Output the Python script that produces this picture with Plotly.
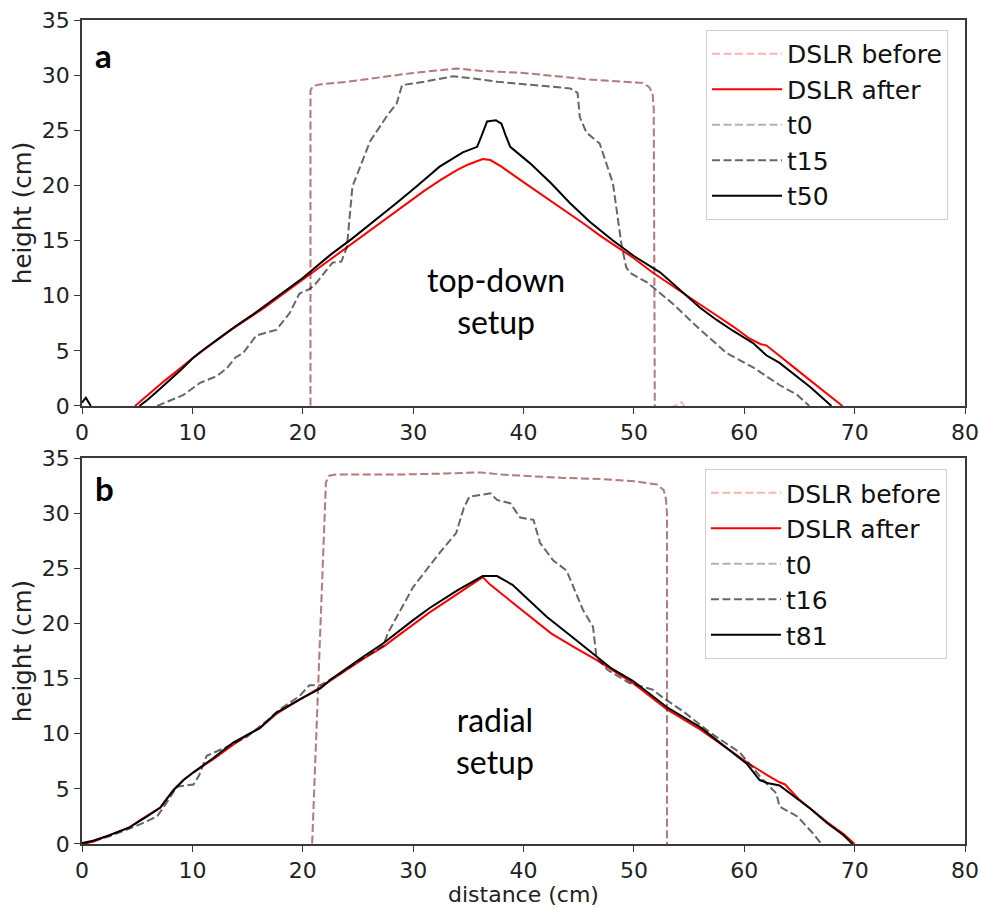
import plotly.graph_objects as go

# ---------------- Panel a (top-down setup) ----------------
a_before_x = [20.7, 20.7, 20.9, 21.5, 24, 27, 30, 33, 34, 36, 38, 40, 43, 46, 49, 50.8, 51.4, 51.7, 51.8, 51.9, 51.9, None, 53.3, 54.3, 54.8]
a_before_y = [-1, 28.6, 29.0, 29.15, 29.4, 29.8, 30.2, 30.5, 30.6, 30.4, 30.3, 30.2, 29.9, 29.6, 29.4, 29.3, 28.9, 28.3, 27.0, 0, -1, None, -0.2, 0.35, -0.3]

a_t0_x = [20.7, 20.7, 20.9, 21.5, 24, 27, 30, 33, 34, 36, 38, 40, 43, 46, 49, 50.8, 51.4, 51.7, 51.8, 51.9, 51.9]
a_t0_y = [-1, 28.6, 29.0, 29.15, 29.4, 29.8, 30.2, 30.5, 30.6, 30.4, 30.3, 30.2, 29.9, 29.6, 29.4, 29.3, 28.9, 28.3, 27.0, 0, -1]

a_after_x = [4.8, 5.5, 6.5, 7.5, 8.5, 9.5, 10.5, 12, 13.5, 15, 16.5, 18, 19.5, 20.7, 22, 23.5, 25, 26.5, 28, 29.5, 31, 32.5, 34, 35, 36.3, 37, 38, 39.7, 41, 42.5, 44, 45.5, 47, 48.5, 50, 51.7, 53, 54.5, 56, 57.5, 59, 60.5, 61.5, 62, 63.2, 64.5, 66, 67.5, 68.9]
a_after_y = [0, 0.6, 1.5, 2.3, 3.1, 3.9, 4.7, 5.8, 6.9, 7.9, 8.9, 10.0, 11.1, 12.0, 12.9, 14.0, 15.1, 16.2, 17.3, 18.4, 19.5, 20.5, 21.4, 21.9, 22.4, 22.3, 21.7, 20.5, 19.6, 18.6, 17.6, 16.5, 15.4, 14.4, 13.4, 12.1, 11.2, 10.2, 9.2, 8.2, 7.2, 6.1, 5.6, 5.5, 4.5, 3.5, 2.3, 1.1, 0]

a_t15_x = [6.8, 8.0, 9.2, 10.7, 12.2, 13.1, 13.9, 14.6, 15.8, 17.6, 18.8, 19.7, 20.6, 21.1, 22.7, 23.5, 24.0, 24.5, 26.1, 27.7, 28.5, 29.0, 31, 33.6, 35.5, 37.6, 40, 42, 44.2, 44.9, 45.1, 45.7, 46.9, 48.1, 48.9, 49.3, 49.6, 51.2, 53.5, 55.7, 58.4, 60.8, 63.2, 64.8, 65.9]
a_t15_y = [0, 0.5, 1.0, 2.1, 2.7, 3.4, 4.4, 4.8, 6.4, 6.9, 8.4, 10.2, 10.6, 11.0, 13.0, 13.1, 14.4, 19.9, 24.0, 26.4, 27.4, 29.1, 29.4, 29.9, 29.7, 29.4, 29.2, 29.0, 28.8, 28.4, 26.2, 24.8, 23.8, 20.2, 14.5, 12.6, 12.1, 11.2, 9.3, 7.2, 4.8, 3.5, 1.9, 1.0, 0]

a_t50_x = [0, 0.35, 0.8, None, 5.2, 6, 7, 8, 9, 10, 11, 12.5, 14, 15.5, 17, 18.5, 20, 20.7, 22.5, 24.5, 26.4, 28.5, 30.3, 32.4, 34.5, 35.8, 36.2, 36.7, 37.5, 38.0, 38.4, 38.8, 40.6, 42.5, 44.2, 46, 48.1, 50, 52.4, 54.5, 56, 57.5, 59, 60.8, 62, 63.2, 64.5, 66, 67.9]
a_t50_y = [0.3, 0.75, 0, None, 0, 0.6, 1.5, 2.4, 3.3, 4.3, 5.1, 6.2, 7.3, 8.3, 9.4, 10.5, 11.6, 12.2, 13.7, 15.2, 16.7, 18.4, 19.9, 21.7, 23.0, 23.5, 24.5, 25.8, 25.9, 25.6, 24.5, 23.5, 22.0, 20.2, 18.4, 16.7, 15.0, 13.6, 12.1, 10.2, 8.9, 7.8, 6.8, 5.7, 4.6, 3.9, 2.9, 1.7, 0]

# ---------------- Panel b (radial setup) ----------------
b_before_x = [20.85, 20.85, 22.1, 22.4, 23, 28.8, 33, 36.1, 38, 43.6, 47, 50, 52.1, 52.7, 52.9, 53.0, 53.0]
b_before_y = [-1, 0, 32.8, 33.4, 33.5, 33.5, 33.6, 33.7, 33.5, 33.2, 33.1, 32.9, 32.6, 32.1, 31.3, 30, -1]

b_t0_x = [20.85, 20.85, 22.1, 22.4, 23, 28.8, 33, 36.1, 38, 43.6, 47, 50, 52.1, 52.7, 52.9, 53.0, 53.0]
b_t0_y = [-1, 0, 32.8, 33.4, 33.5, 33.5, 33.6, 33.7, 33.5, 33.2, 33.1, 32.9, 32.6, 32.1, 31.3, 30, -1]

b_after_x = [0, 1, 2.5, 4.3, 5.3, 6, 7.1, 7.6, 8.3, 9.2, 10.1, 11, 11.9, 13.7, 15, 16.1, 17.6, 19.7, 21.6, 22.5, 25.5, 27.3, 28.8, 31.5, 33, 34.5, 36.3, 37, 38.5, 40.6, 42.5, 44.5, 46.6, 49.9, 52.4, 53, 56, 58, 60.4, 62, 63.2, 63.7, 64.4, 65, 67.5, 69, 70]
b_after_y = [0, 0.2, 0.8, 1.5, 2.2, 2.6, 3.3, 4.0, 4.9, 5.8, 6.5, 7.1, 7.7, 9.0, 9.9, 10.5, 11.8, 13.1, 14.2, 14.8, 16.8, 17.9, 19.0, 21.0, 22.0, 23.0, 24.2, 23.5, 22.3, 20.6, 19.1, 17.9, 16.7, 14.6, 12.6, 12.2, 10.4, 9.0, 7.3, 6.3, 5.6, 5.4, 4.6, 4.0, 2.0, 0.9, 0]

b_t16_x = [0, 2.5, 4.3, 5.3, 6.8, 7.5, 8.6, 10.1, 10.6, 11.3, 13.1, 14.9, 16.8, 17.9, 19.7, 20.6, 21.6, 23, 24.5, 26, 27.3, 27.7, 30, 32.4, 33.9, 34.6, 35.1, 37, 37.6, 38.8, 39.7, 40.9, 41.5, 42.7, 43.9, 45.4, 46.3, 46.6, 47.6, 49.6, 51.7, 52.6, 54.5, 56.9, 59.6, 61.7, 62.9, 63.2, 64.8, 66.2, 67]
b_t16_y = [0, 0.7, 1.4, 1.8, 2.5, 3.5, 5.2, 5.4, 6.2, 8.0, 8.8, 9.7, 11.2, 12.2, 13.4, 14.4, 14.4, 15.2, 16.2, 17.2, 18.0, 19.1, 23.3, 26.4, 28.2, 30.5, 31.5, 31.8, 31.2, 30.9, 29.6, 29.4, 27.3, 25.7, 24.8, 21.2, 19.7, 17.0, 15.8, 14.6, 14.0, 13.3, 12.0, 10.1, 8.3, 5.8, 4.6, 3.4, 2.5, 1.0, 0]

b_t81_x = [0, 1, 2.5, 4.3, 5.9, 7.1, 8.3, 9.2, 10.1, 11.9, 13.7, 16.1, 17.6, 19.7, 21.6, 22.5, 25.5, 27.3, 30, 31.5, 34, 36.3, 37.6, 39, 40.5, 42.1, 44.5, 46.6, 48, 49.9, 53, 56, 58, 60.2, 61.4, 62.2, 63.2, 65, 66, 67.5, 69, 69.8]
b_t81_y = [0.1, 0.3, 0.8, 1.5, 2.5, 3.3, 4.9, 5.8, 6.5, 7.8, 9.2, 10.5, 11.9, 13.1, 14.1, 14.9, 17.0, 18.2, 20.3, 21.4, 23.0, 24.3, 24.3, 23.5, 22.1, 20.6, 18.7, 17.0, 15.9, 14.8, 12.4, 10.6, 9.0, 7.3, 5.8, 5.5, 5.3, 4.0, 3.2, 1.9, 0.8, 0]

x_ticks = [0, 10, 20, 30, 40, 50, 60, 70, 80]
y_ticks = [0, 5, 10, 15, 20, 25, 30, 35]

C_BEFORE = "rgba(255,0,0,0.3)"
C_AFTER = "#ff0000"
C_T0 = "rgba(0,0,0,0.3)"
C_TMID = "rgba(0,0,0,0.6)"
C_TEND = "#000000"
DASH = "8px,3.5px"

fig = go.Figure()


def add(x, y, name, color, dash, xa, ya, leg, grp):
    fig.add_trace(go.Scatter(
        x=x, y=y, mode="lines", name=name,
        line=dict(color=color, width=2, dash=dash),
        xaxis=xa, yaxis=ya, legend=leg, legendgroup=grp,
        connectgaps=False, hoverinfo="skip"))


add(a_before_x, a_before_y, "DSLR before", C_BEFORE, DASH, "x", "y", "legend", "a1")
add(a_after_x, a_after_y, "DSLR after", C_AFTER, "solid", "x", "y", "legend", "a2")
add(a_t0_x, a_t0_y, "t0", C_T0, DASH, "x", "y", "legend", "a3")
add(a_t15_x, a_t15_y, "t15", C_TMID, DASH, "x", "y", "legend", "a4")
add(a_t50_x, a_t50_y, "t50", C_TEND, "solid", "x", "y", "legend", "a5")

add(b_before_x, b_before_y, "DSLR before", C_BEFORE, DASH, "x2", "y2", "legend2", "b1")
add(b_after_x, b_after_y, "DSLR after", C_AFTER, "solid", "x2", "y2", "legend2", "b2")
add(b_t0_x, b_t0_y, "t0", C_T0, DASH, "x2", "y2", "legend2", "b3")
add(b_t16_x, b_t16_y, "t16", C_TMID, DASH, "x2", "y2", "legend2", "b4")
add(b_t81_x, b_t81_y, "t81", C_TEND, "solid", "x2", "y2", "legend2", "b5")

TICKFONT = dict(family="DejaVu Sans", size=22, color="#222222")
TITLEFONT = dict(family="DejaVu Sans", size=24.5, color="#222222")

axis_common = dict(
    showgrid=False, zeroline=False, showline=True, linecolor="#3a3a3a",
    linewidth=1.5, mirror=True, ticks="outside", ticklen=6, tickwidth=1.3,
    tickcolor="#3a3a3a", tickfont=TICKFONT, automargin=False)

leg_common = dict(
    font=dict(family="DejaVu Sans", size=25, color="#111111"),
    bgcolor="rgba(255,255,255,0.85)", bordercolor="#d0d0d0", borderwidth=1,
    xanchor="left", yanchor="top", tracegroupgap=3, traceorder="normal",
    itemwidth=70)

fig.update_layout(
    width=981, height=908,
    margin=dict(l=82, r=16, t=20, b=64, autoexpand=False),
    paper_bgcolor="white", plot_bgcolor="white",
    showlegend=True,
    xaxis=dict(domain=[0, 1], anchor="y", range=[0, 80], tickvals=x_ticks, **axis_common),
    yaxis=dict(domain=[0.5316, 1], anchor="x", range=[0, 35], tickvals=y_ticks,
               title=dict(text="height (cm)", font=TITLEFONT, standoff=3), **axis_common),
    xaxis2=dict(domain=[0, 1], anchor="y2", range=[0, 80], tickvals=x_ticks, **axis_common),
    yaxis2=dict(domain=[0, 0.4684], anchor="x2", range=[0, 35], tickvals=y_ticks,
                title=dict(text="height (cm)", font=TITLEFONT, standoff=3), **axis_common),
    legend=dict(x=0.7067, y=0.988, **leg_common),
    legend2=dict(x=0.7055, y=0.455, **leg_common),
)

# x-axis title of the lower panel
fig.add_annotation(x=0.5, y=-0.0612, xref="paper", yref="paper", text="distance (cm)",
                   showarrow=False, yanchor="middle", borderpad=0,
                   font=dict(family="DejaVu Sans", size=22, color="#222222"))

ann_font = dict(family="Lato", size=32, color="#000000")
fig.add_annotation(x=37.5, y=9.6, xref="x", yref="y", text="top-down<br>setup",
                   showarrow=False, font=ann_font, align="center")
fig.add_annotation(x=37.4, y=9.4, xref="x2", yref="y2", text="radial<br>setup",
                   showarrow=False, font=ann_font, align="center")
fig.add_annotation(x=1.0, y=31.8, xref="x", yref="y", text="<b>a</b>", xanchor="left",
                   showarrow=False, font=dict(family="Lato", size=33, color="#000000"))
fig.add_annotation(x=1.0, y=32.3, xref="x2", yref="y2", text="<b>b</b>", xanchor="left",
                   showarrow=False, font=dict(family="Lato", size=33, color="#000000"))

fig.write_html("out.html", config={"displayModeBar": False},
               post_script="document.body.style.margin='0px';document.body.style.overflow='hidden';")
